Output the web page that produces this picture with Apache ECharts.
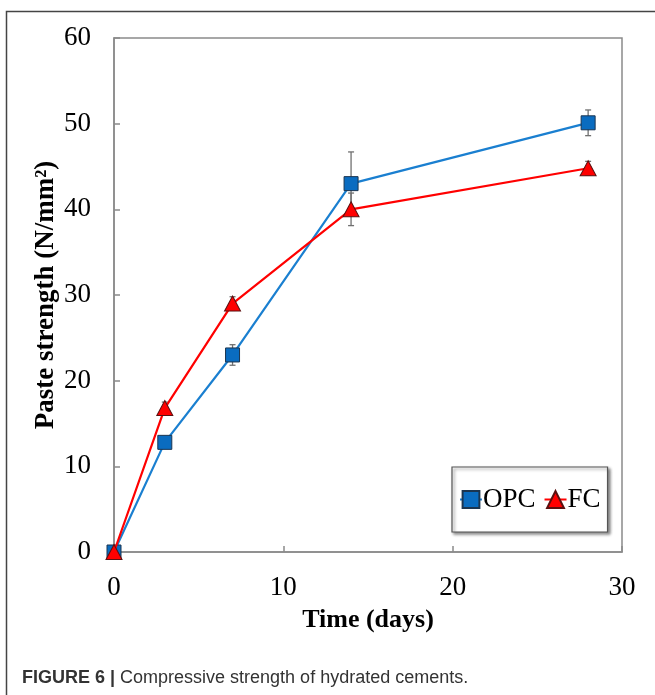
<!DOCTYPE html>
<html>
<head>
<meta charset="utf-8">
<script src="https://cdn.jsdelivr.net/npm/echarts@6/dist/echarts.min.js"></script>
<style>
  html, body { margin: 0; padding: 0; background: #fff; }
  #chart { width: 655px; height: 695px; }
</style>
</head>
<body>
<div id="chart"></div>
<script>
// Curing time (days) and paste compressive strength (N/mm²)
const days = [0, 3, 7, 14, 28];
const opcStrength = [0, 12.8, 23.0, 43.0, 50.1];
const fcStrength = [0, 16.8, 29.0, 40.0, 44.8];
// Standard deviation for each measurement
const opcError = [0, 0.5, 1.2, 3.7, 1.5];
const fcError = [0, 0.7, 0.8, 1.9, 0.8];

const xTicks = [0, 10, 20, 30];
const yTicks = [0, 10, 20, 30, 40, 50, 60];

const serif = 'Liberation Serif, Times New Roman, serif';
const sans = 'Liberation Sans, Arial, sans-serif';

function pairs(xs, ys) { return xs.map((x, i) => [x, ys[i]]); }
function errRows(xs, ys, es) { return xs.map((x, i) => [x, ys[i] - es[i], ys[i] + es[i]]); }

function errorBarItem(params, api) {
  const x = api.value(0);
  const lo = api.coord([x, api.value(1)]);
  const hi = api.coord([x, api.value(2)]);
  const cap = 3;
  const style = { stroke: '#707070', lineWidth: 1.3 };
  return {
    type: 'group',
    children: [
      { type: 'line', shape: { x1: hi[0], y1: hi[1], x2: lo[0], y2: lo[1] }, style },
      { type: 'line', shape: { x1: hi[0] - cap, y1: hi[1], x2: hi[0] + cap, y2: hi[1] }, style },
      { type: 'line', shape: { x1: lo[0] - cap, y1: lo[1], x2: lo[0] + cap, y2: lo[1] }, style }
    ]
  };
}

const chart = echarts.init(document.getElementById('chart'), null, { renderer: 'canvas' });

chart.setOption({
  backgroundColor: '#fff',
  animation: false,
  title: {
    text: '{b|FIGURE 6 |} Compressive strength of hydrated cements.',
    left: 17,
    top: 664,
    textStyle: {
      rich: {
        b: { fontFamily: sans, fontWeight: 'bold', fontSize: 18, color: '#333' }
      },
      fontFamily: sans,
      fontWeight: 'normal',
      fontSize: 18,
      color: '#333'
    }
  },
  graphic: [
    { type: 'polyline', shape: { points: [[6.5, 695], [6.5, 11.5], [655, 11.5]] },
      style: { stroke: '#444', lineWidth: 1.5, fill: null }, silent: true }
  ],
  grid: {
    left: 114, top: 38, right: 33, bottom: 143,
    show: true, borderColor: '#8a8a8a', borderWidth: 1.5, backgroundColor: 'transparent'
  },
  legend: {
    left: 452, top: 467,
    padding: [19, 7, 19, 7],
    itemGap: 8,
    itemWidth: 22,
    itemHeight: 21,
    backgroundColor: '#fff',
    borderColor: '#555',
    borderWidth: 1.2,
    shadowColor: 'rgba(0,0,0,0.45)',
    shadowBlur: 3,
    shadowOffsetX: 2,
    shadowOffsetY: 2,
    textStyle: { fontFamily: serif, fontSize: 27, color: '#000', padding: [0, 0, 0, -4] },
    data: ['OPC', 'FC']
  },
  xAxis: {
    type: 'value', min: 0, max: 30, interval: 10,
    axisLine: { show: true, lineStyle: { color: '#8a8a8a', width: 1.5 } },
    axisTick: { show: true, inside: true, length: 6, lineStyle: { color: '#8a8a8a', width: 1.5 } },
    splitLine: { show: false },
    axisLabel: { fontFamily: serif, fontSize: 27, color: '#000', margin: 22,
      formatter: v => xTicks.includes(v) ? String(v) : '' },
    name: 'Time (days)',
    nameLocation: 'middle',
    nameGap: 55,
    nameTextStyle: { fontFamily: serif, fontSize: 26, fontWeight: 'bold', color: '#000' }
  },
  yAxis: {
    type: 'value', min: 0, max: 60, interval: 10,
    axisLine: { show: true, lineStyle: { color: '#8a8a8a', width: 1.5 } },
    axisTick: { show: true, inside: true, length: 6, lineStyle: { color: '#8a8a8a', width: 1.5 } },
    splitLine: { show: false },
    axisLabel: { fontFamily: serif, fontSize: 27, color: '#000', margin: 23,
      formatter: v => yTicks.includes(v) ? String(v) : '' },
    name: 'Paste strength (N/mm²)',
    nameLocation: 'middle',
    nameGap: 54,
    nameMoveOverlap: false,
    nameTextStyle: { fontFamily: serif, fontSize: 27, fontWeight: 'bold', color: '#000' }
  },
  series: [
    {
      name: 'OPC-err', type: 'custom', renderItem: errorBarItem,
      data: errRows(days, opcStrength, opcError), z: 1, silent: true,
      encode: { x: 0, y: [1, 2] }
    },
    {
      name: 'FC-err', type: 'custom', renderItem: errorBarItem,
      data: errRows(days, fcStrength, fcError), z: 1, silent: true,
      encode: { x: 0, y: [1, 2] }
    },
    {
      name: 'OPC', type: 'line', data: pairs(days, opcStrength), z: 3,
      symbol: 'rect', symbolSize: 14,
      lineStyle: { color: '#1a7fd0', width: 2.2 },
      itemStyle: { color: '#0a6cc0', borderColor: '#1b3550', borderWidth: 1 }
    },
    {
      name: 'FC', type: 'line', data: pairs(days, fcStrength), z: 4,
      symbol: 'triangle', symbolSize: [16, 15],
      lineStyle: { color: '#ff0000', width: 2.2 },
      itemStyle: { color: '#ff0000', borderColor: '#5a1010', borderWidth: 1 }
    }
  ]
});
</script>
</body>
</html>
